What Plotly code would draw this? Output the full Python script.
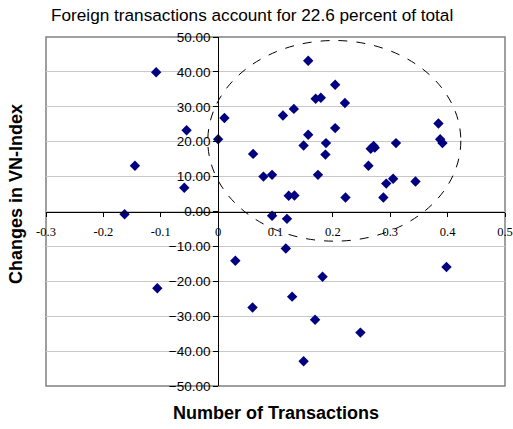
import plotly.graph_objects as go

transactions = [0.157, 0.011, 0.0, 0.204, 0.170, 0.179, 0.221, 0.113, 0.132, 0.204,
                0.157, 0.149, 0.188, 0.187, 0.061, 0.266, 0.271, 0.273, 0.310, 0.384,
                0.387, 0.391, 0.262, 0.079, 0.094, 0.174, 0.305, 0.293, 0.344, 0.123,
                0.133, 0.222, 0.288,
                -0.108, -0.145, -0.055, -0.059, -0.163,
                -0.106, 0.094, 0.120, 0.118, 0.030, 0.182, 0.129, 0.060, 0.169, 0.248,
                0.149, 0.398]
vn_change = [43.2, 26.8, 20.7, 36.3, 32.3, 32.6, 31.1, 27.5, 29.4, 23.9,
             22.0, 18.9, 19.6, 16.3, 16.5, 18.0, 18.8, 18.3, 19.6, 25.2,
             20.7, 19.6, 13.1, 10.0, 10.5, 10.5, 9.4, 8.0, 8.6, 4.5,
             4.6, 4.0, 4.0,
             39.9, 13.1, 23.3, 6.8, -0.8,
             -22.0, -1.2, -2.1, -10.6, -14.1, -18.7, -24.4, -27.5, -31.0, -34.7,
             -42.9, -15.9]

x_ticks = [-0.3, -0.2, -0.1, 0, 0.1, 0.2, 0.3, 0.4, 0.5]
x_tick_labels = ["-0.3", "-0.2", "-0.1", "0", "0.1", "0.2", "0.3", "0.4", "0.5"]
y_ticks = [50, 40, 30, 20, 10, 0, -10, -20, -30, -40, -50]

title_text = "Foreign transactions account for 22.6 percent of total"
x_title = "Number of Transactions"
y_title = "Changes in VN-Index"

fig = go.Figure()
fig.add_trace(go.Scatter(
    x=transactions, y=vn_change, mode="markers",
    marker=dict(symbol="diamond", size=8, color="#000080", line=dict(width=0)),
    showlegend=False, cliponaxis=False,
))

fig.add_shape(type="circle", xref="x", yref="y", x0=-0.018, x1=0.423, y0=-8.5, y1=49,
              line=dict(color="black", width=1, dash="dash"), layer="above")
fig.add_shape(type="rect", xref="paper", yref="paper", x0=0, x1=1, y0=0, y1=1,
              line=dict(color="#808080", width=1.5), layer="below")

fig.update_layout(
    width=513, height=429,
    margin=dict(l=46, r=8, t=37, b=43, autoexpand=False),
    paper_bgcolor="white", plot_bgcolor="white",
    font=dict(family="Arial, Liberation Sans", color="black"),
    xaxis=dict(range=[-0.3, 0.5], tickvals=x_ticks, ticktext=x_tick_labels,
               anchor="free", position=0.5, showgrid=False, zeroline=False,
               showline=True, linecolor="black", linewidth=1, automargin=False,
               ticks="outside", ticklen=4, tickcolor="black", ticklabelstandoff=4,
               tickfont=dict(family="Liberation Serif, Times New Roman", size=12.5),
               fixedrange=True),
    yaxis=dict(range=[-50, 50], tickvals=y_ticks, tickformat=".2f",
               anchor="free", position=0.375, showgrid=True, gridcolor="#c8c8c8",
               zeroline=False, showline=True, linecolor="black", linewidth=1,
               automargin=False,
               ticks="outside", ticklen=5, tickcolor="black",
               tickfont=dict(family="Arial, Liberation Sans", size=13.5)),
    annotations=[
        dict(text=title_text, xref="paper", yref="paper", x=0.449, y=1, yshift=22,
             showarrow=False, font=dict(size=17.2), xanchor="center", yanchor="middle"),
        dict(text="<b>" + x_title + "</b>", xref="paper", yref="paper", x=0.5, y=0,
             yshift=-27, showarrow=False, font=dict(size=18), xanchor="center",
             yanchor="middle"),
        dict(text="<b>" + y_title + "</b>", xref="paper", yref="paper", x=0, y=0.549,
             xshift=-29.5, yshift=0, showarrow=False, font=dict(size=18), textangle=-90,
             xanchor="center", yanchor="middle"),
    ],
)

fig.write_html("out.html", config={"displayModeBar": False},
               post_script="document.body.style.margin='0';document.body.style.padding='0';")
